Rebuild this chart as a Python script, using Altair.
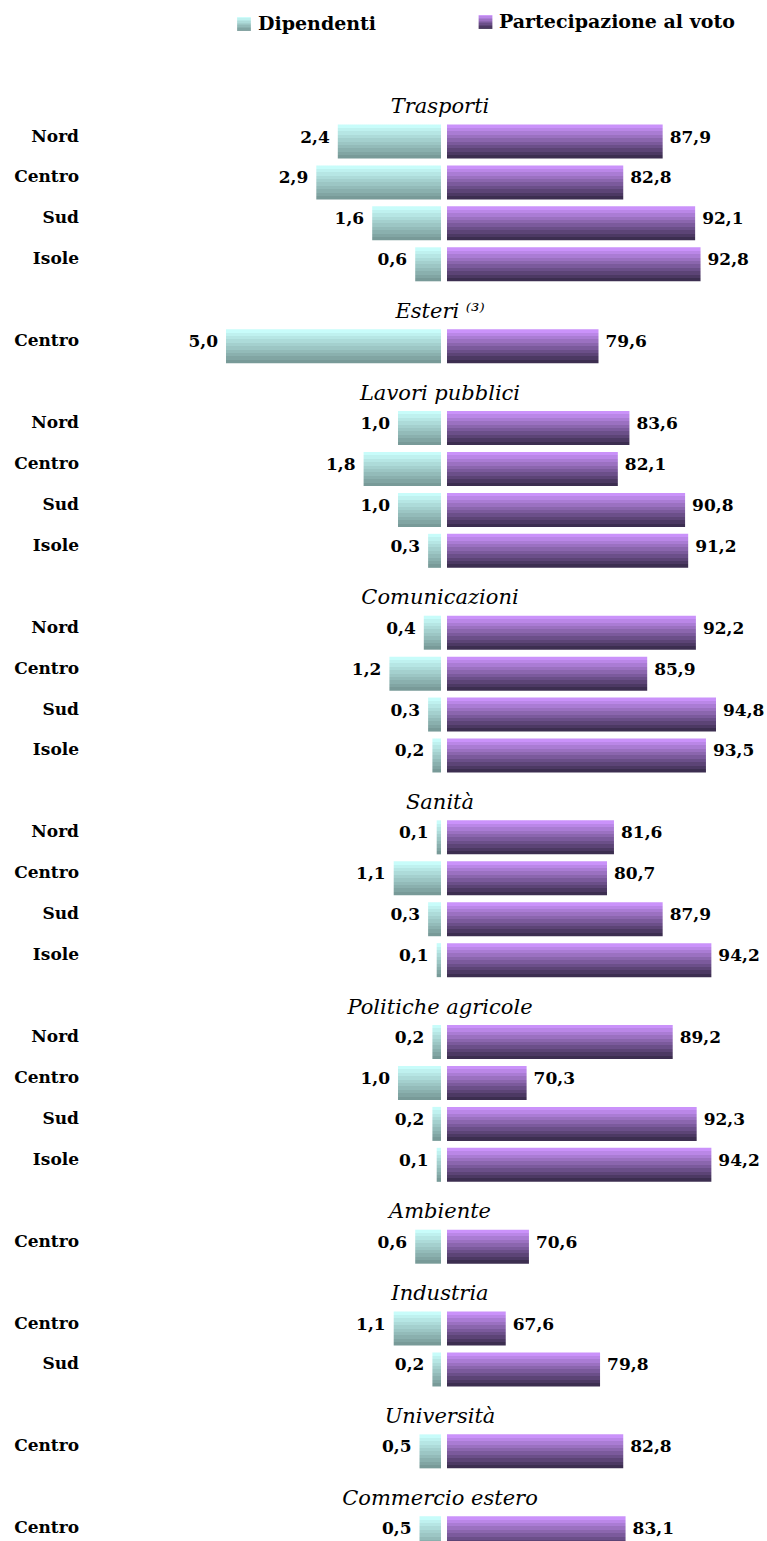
import altair as alt
import pandas as pd

# ---------------- data ----------------
groups = ["Trasporti", "Esteri \u207d\u00b3\u207e", "Lavori pubblici", "Comunicazioni", "Sanità",
          "Politiche agricole", "Ambiente", "Industria", "Università", "Commercio estero"]
regions = [
    ["Nord", "Centro", "Sud", "Isole"],
    ["Centro"],
    ["Nord", "Centro", "Sud", "Isole"],
    ["Nord", "Centro", "Sud", "Isole"],
    ["Nord", "Centro", "Sud", "Isole"],
    ["Nord", "Centro", "Sud", "Isole"],
    ["Centro"],
    ["Centro", "Sud"],
    ["Centro"],
    ["Centro"],
]
dipendenti = [
    [2.4, 2.9, 1.6, 0.6],
    [5.0],
    [1.0, 1.8, 1.0, 0.3],
    [0.4, 1.2, 0.3, 0.2],
    [0.1, 1.1, 0.3, 0.1],
    [0.2, 1.0, 0.2, 0.1],
    [0.6],
    [1.1, 0.2],
    [0.5],
    [0.5],
]
voto = [
    [87.9, 82.8, 92.1, 92.8],
    [79.6],
    [83.6, 82.1, 90.8, 91.2],
    [92.2, 85.9, 94.8, 93.5],
    [81.6, 80.7, 87.9, 94.2],
    [89.2, 70.3, 92.3, 94.2],
    [70.6],
    [67.6, 79.8],
    [82.8],
    [83.1],
]
legend_labels = ["Dipendenti", "Partecipazione al voto"]


def fmt(v):
    return f"{v:.1f}".replace(".", ",")


# one row per line of the chart: a heading line for each group, then its regions
rows, titles = [], []
idx = 0
for gi, g in enumerate(groups):
    titles.append({"idx": idx, "title": g})
    idx += 1
    for r, d, v in zip(regions[gi], dipendenti[gi], voto[gi]):
        rows.append({"idx": idx, "region": r, "dip": d, "voto": v,
                     "dip_lbl": fmt(d), "voto_lbl": fmt(v)})
        idx += 1

df = pd.DataFrame(rows)
tdf = pd.DataFrame(titles)


# ---------------- styles ----------------
def banded(top, bottom, n=10):
    stops = []
    for k in range(n):
        t = k / (n - 1)
        c = tuple(round(top[i] + (bottom[i] - top[i]) * t) for i in range(3))
        col = "#%02x%02x%02x" % c
        stops.append(alt.GradientStop(offset=k / n, color=col))
        stops.append(alt.GradientStop(offset=(k + 1) / n, color=col))
    return alt.LinearGradient(gradient="linear", stops=stops, x1=0, x2=0, y1=0, y2=1)


teal = banded((200, 252, 250), (120, 154, 152))
purple = banded((202, 146, 250), (60, 46, 80))

FONT = "DejaVu Serif"
H = 1541
WL = 441
WR = 320
BAR_H = 34
STEP = 41.2            # pixels per line
TOP = 96.2             # pixel centre of the first line

y_dom = [-TOP / STEP, -TOP / STEP + H / STEP]
yscale = alt.Scale(domain=y_dom, reverse=True, nice=False, zero=False)
Y = alt.Y("idx:Q", scale=yscale, axis=None)

XL = alt.X("dip:Q", scale=alt.Scale(domain=[0, WL / 43.0], reverse=True, nice=False), axis=None)
XR = alt.X("voto:Q", scale=alt.Scale(domain=[60, 60 + WR / 7.73], zero=False, nice=False), axis=None)

base = alt.Chart(df)

# ---------------- left panel ----------------
bars_l = base.mark_bar(orient="horizontal", size=BAR_H, fill=teal, clip=True).encode(x=XL, y=Y)
lbl_l = base.mark_text(align="right", baseline="middle", dx=-8, dy=-4, font=FONT,
                       fontWeight="bold", fontSize=17, color="black").encode(
    x=XL, y=Y, text="dip_lbl:N")
reg_l = base.mark_text(align="right", baseline="middle", dy=-5, font=FONT,
                       fontWeight="bold", fontSize=17, color="black").encode(
    x=alt.value(79), y=Y, text="region:N")
tit_l = alt.Chart(tdf).mark_text(align="center", baseline="alphabetic", dy=12.5, font=FONT,
                                 fontStyle="italic", fontSize=21, color="black").encode(
    x=alt.value(440), y=Y, text="title:N")
leg_df_l = pd.DataFrame({"s": [legend_labels[0]]})
legsq_l = alt.Chart(leg_df_l).mark_square(size=190, fill=teal, opacity=1).encode(
    x=alt.value(244), y=alt.value(24))
legtx_l = alt.Chart(leg_df_l).mark_text(align="left", baseline="alphabetic", font=FONT,
                                        fontWeight="bold", fontSize=19, color="black").encode(
    x=alt.value(258), y=alt.value(29.5), text="s:N")

left = alt.layer(bars_l, lbl_l, reg_l, tit_l, legsq_l, legtx_l).properties(width=WL, height=H)

# ---------------- right panel ----------------
bars_r = base.mark_bar(orient="horizontal", size=BAR_H, fill=purple, clip=True).encode(
    x=XR, x2=alt.datum(60), y=Y)
lbl_r = base.mark_text(align="left", baseline="middle", dx=7, dy=-4, font=FONT,
                       fontWeight="bold", fontSize=17, color="black").encode(
    x=XR, y=Y, text="voto_lbl:N")
leg_df_r = pd.DataFrame({"s": [legend_labels[1]]})
legsq_r = alt.Chart(leg_df_r).mark_square(size=190, fill=purple, opacity=1).encode(
    x=alt.value(38.5), y=alt.value(22))
legtx_r = alt.Chart(leg_df_r).mark_text(align="left", baseline="alphabetic", font=FONT,
                                        fontWeight="bold", fontSize=19, color="black").encode(
    x=alt.value(52), y=alt.value(27.5), text="s:N")

right = alt.layer(bars_r, lbl_r, legsq_r, legtx_r).properties(width=WR, height=H)

chart = alt.hconcat(left, right, spacing=6, bounds="flush", padding=0).configure_view(stroke=None)

chart.save("out.html", embed_options={"renderer": "svg", "actions": False})
